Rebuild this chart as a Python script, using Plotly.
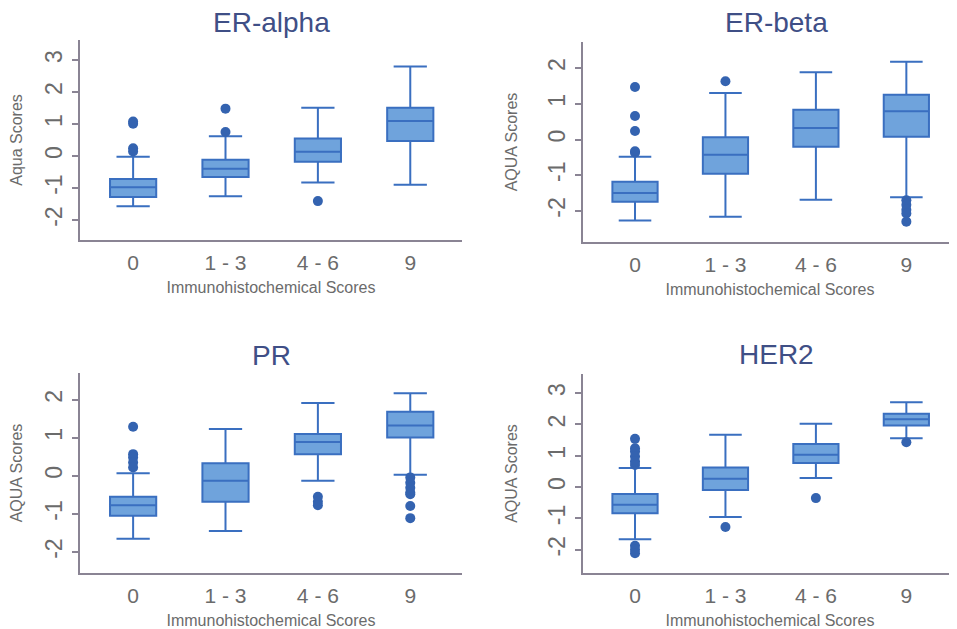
import plotly.graph_objects as go

categories = ["0", "1 - 3", "4 - 6", "9"]
titles = ["ER-alpha", "ER-beta", "PR", "HER2"]
y_titles = ["Aqua Scores", "AQUA Scores", "AQUA Scores", "AQUA Scores"]

# ER-alpha
era_q1 = [-1.28, -0.66, -0.18, 0.47]
era_med = [-0.98, -0.40, 0.13, 1.09]
era_q3 = [-0.72, -0.12, 0.55, 1.51]
era_lo = [-1.57, -1.26, -0.83, -0.90]
era_hi = [-0.02, 0.62, 1.51, 2.80]
era_out = [[1.01, 1.08, 0.24, 0.14], [1.48, 0.75], [-1.41], []]

# ER-beta
erb_q1 = [-1.74, -0.96, -0.20, 0.08]
erb_med = [-1.50, -0.43, 0.32, 0.79]
erb_q3 = [-1.18, 0.06, 0.83, 1.25]
erb_lo = [-2.27, -2.16, -1.69, -1.62]
erb_hi = [-0.48, 1.30, 1.88, 2.18]
erb_out = [[1.47, 0.66, 0.24, -0.33, -0.37], [1.63], [], [-1.70, -1.83, -1.97, -2.07, -2.30]]

# PR
pr_q1 = [-1.05, -0.68, 0.57, 1.01]
pr_med = [-0.77, -0.13, 0.89, 1.32]
pr_q3 = [-0.55, 0.33, 1.10, 1.68]
pr_lo = [-1.65, -1.45, -0.13, 0.03]
pr_hi = [0.07, 1.23, 1.91, 2.17]
pr_out = [[1.29, 0.57, 0.48, 0.35, 0.22], [], [-0.55, -0.68, -0.77],
          [-0.04, -0.18, -0.31, -0.44, -0.48, -0.79, -1.11]]

# HER2
her_q1 = [-0.83, -0.09, 0.77, 1.97]
her_med = [-0.56, 0.27, 1.03, 2.17]
her_q3 = [-0.22, 0.63, 1.38, 2.34]
her_lo = [-1.66, -0.95, 0.29, 1.56]
her_hi = [0.61, 1.67, 2.02, 2.71]
her_out = [[1.54, 1.24, 1.14, 0.98, 0.82, 0.71, -1.87, -2.00, -2.11], [-1.27], [-0.35], [1.43]]

panels = [
    (era_q1, era_med, era_q3, era_lo, era_hi, era_out),
    (erb_q1, erb_med, erb_q3, erb_lo, erb_hi, erb_out),
    (pr_q1, pr_med, pr_q3, pr_lo, pr_hi, pr_out),
    (her_q1, her_med, her_q3, her_lo, her_hi, her_out),
]

# page has an 8px body margin; figure is sized to fill the rest of the window
OFF = 8
W, H = 957 - OFF, 629 - OFF


def fx(px):
    return (px - OFF) / W


def fy(py):
    return 1 - (py - OFF) / H


# page-pixel boxes for each plot area: (x0, x1, ytop, ybottom)
areas = [(80, 462, 40, 240), (583, 957, 42, 242), (80, 462, 373, 573), (583, 957, 374, 573)]
yranges = [[-2.625, 3.625], [-2.87, 2.73], [-2.55, 2.70], [-2.74, 3.61]]
yticks = [[-2, -1, 0, 1, 2, 3], [-2, -1, 0, 1, 2], [-2, -1, 0, 1, 2], [-2, -1, 0, 1, 2, 3]]

FILL = "#6fa3dc"
LINE = "#3a6fc0"
DOT = "#3463b0"
AXIS = "#8a8494"
TXT = "#6b6b6b"
TITLE = "#3f4f86"
FONT = "Liberation Sans, Arial"

fig = go.Figure()
layout = {}
for i, (q1, med, q3, lo, hi, outs) in enumerate(panels):
    n = "" if i == 0 else str(i + 1)
    xa, ya = "x" + n, "y" + n
    fig.add_trace(go.Box(
        x=categories, q1=q1, median=med, q3=q3, lowerfence=lo, upperfence=hi,
        xaxis=xa, yaxis=ya, width=0.5, whiskerwidth=0.72,
        fillcolor=FILL, line=dict(color=LINE, width=2), boxpoints=False,
        showlegend=False, hoverinfo="skip",
    ))
    ox, oy = [], []
    for c, vals in zip(categories, outs):
        for v in vals:
            ox.append(c)
            oy.append(v)
    fig.add_trace(go.Scatter(
        x=ox, y=oy, mode="markers", xaxis=xa, yaxis=ya,
        marker=dict(color=DOT, size=10), showlegend=False, hoverinfo="skip",
    ))
    x0, x1, yt, yb = areas[i]
    layout["xaxis" + n] = dict(
        domain=[fx(x0), min(fx(x1), 1.0)], anchor=ya, type="category",
        range=[-0.575, 3.56], showline=True, linecolor=AXIS, linewidth=1.5,
        showgrid=False, zeroline=False, ticks="", ticklen=0,
        ticklabelstandoff=3,
        tickfont=dict(family=FONT, size=21, color=TXT),
        title=dict(text="Immunohistochemical Scores", standoff=9,
                   font=dict(family=FONT, size=16, color=TXT)),
        fixedrange=True,
    )
    layout["yaxis" + n] = dict(
        domain=[fy(yb), fy(yt)], anchor=xa, range=yranges[i],
        tickvals=yticks[i], ticktext=[str(t) for t in yticks[i]], tickangle=-90,
        showline=True, linecolor=AXIS, linewidth=1.5, showgrid=False, zeroline=False,
        ticks="outside", ticklen=6, tickcolor=AXIS, tickwidth=1.5,
        ticklabelstandoff=1,
        tickfont=dict(family=FONT, size=23, color=TXT),
        title=dict(text=y_titles[i], standoff=22,
                   font=dict(family=FONT, size=16, color=TXT)),
        fixedrange=True,
    )

annotations = []
title_pos = [(271, 23), (776, 23), (271, 355), (776, 354)]
for t, (tx, ty) in zip(titles, title_pos):
    annotations.append(dict(
        text=t, x=fx(tx), y=fy(ty), xref="paper", yref="paper",
        xanchor="center", yanchor="middle", showarrow=False,
        font=dict(family=FONT, size=28, color=TITLE),
    ))

fig.update_layout(
    width=W, height=H, margin=dict(l=0, r=0, t=0, b=0),
    paper_bgcolor="white", plot_bgcolor="white",
    annotations=annotations, **layout,
)
fig.write_html("out.html")
